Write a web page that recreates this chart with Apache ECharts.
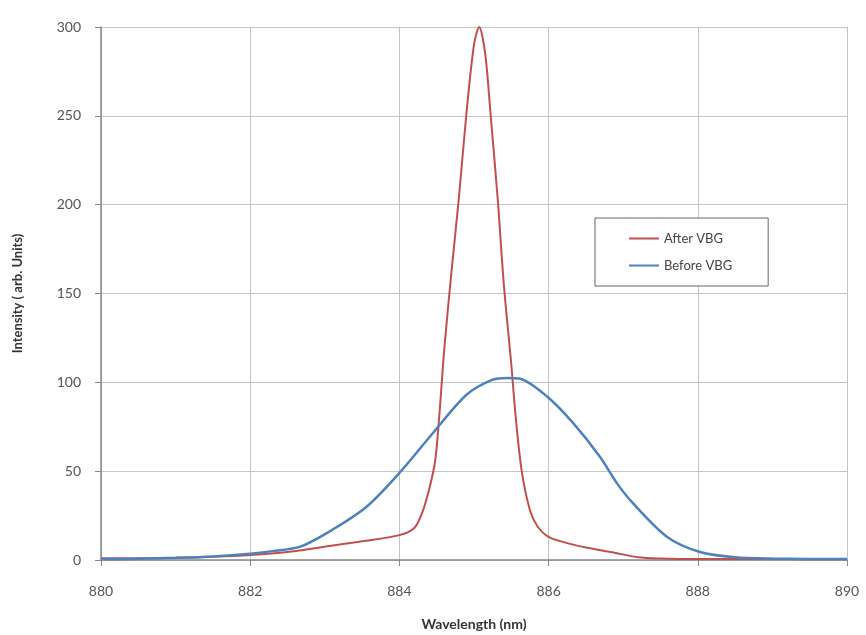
<!DOCTYPE html>
<html lang="en">
<head>
    <meta charset="UTF-8">
    <title>VBG spectrum</title>
    <script src="https://cdn.jsdelivr.net/npm/echarts@6/dist/echarts.min.js"></script>
</head>
<body style="margin:0;padding:0;background:#fff;">
<div id="chart" style="width:866px;height:635px;"></div>
<script>
    // spectrum after the VBG (narrow peak)
    var afterWl = [880, 880.5, 881, 881.5, 882, 882.5, 883, 883.5, 884, 884.2, 884.3, 884.4, 884.48, 884.54, 884.6, 884.7, 884.8, 884.9, 885.0, 885.07, 885.15, 885.22, 885.32, 885.4, 885.5, 885.56, 885.64, 885.75, 885.85, 886.0, 886.25, 886.5, 886.9, 887.2, 887.5, 888, 889, 890];
    var afterInt = [1, 1, 1.2, 1.8, 2.8, 4.5, 7.5, 10.5, 14, 18, 26, 40, 56, 84, 118, 163, 205, 252, 290, 300, 285, 252, 202, 155, 110, 80, 50, 28, 19, 13, 9.5, 7, 4, 1.5, 0.8, 0.5, 0.5, 0.5];
    // spectrum before the VBG (broad)
    var beforeWl = [880, 880.5, 881, 881.5, 882, 882.3, 882.67, 883.1, 883.56, 884.0, 884.45, 884.9, 885.25, 885.45, 885.62, 885.98, 886.33, 886.69, 886.92, 887.13, 887.59, 888.03, 888.5, 889, 890];
    var beforeInt = [0.5, 0.7, 1.2, 2, 3.5, 5, 7.5, 17, 30, 49, 71.5, 93, 101.5, 102.5, 102, 92, 77, 58, 43, 32, 13, 4.5, 1.5, 0.8, 0.5];

    function pairs(xs, ys) {
        var out = [];
        for (var i = 0; i < xs.length; i++) {
            out.push([xs[i], ys[i]]);
        }
        return out;
    }

    var myChart = echarts.init(document.getElementById('chart'));
    var font = 'Lato, "Open Sans", sans-serif';
    var option = {
        animation: false,
        backgroundColor: '#fff',
        grid: {
            left: 101,
            right: 19,
            top: 27,
            bottom: 75,
            containLabel: false,
            outerBoundsMode: 'none'
        },
        legend: {
            orient: 'vertical',
            left: 595,
            top: 218,
            padding: [14, 36, 14, 34],
            itemGap: 14,
            itemWidth: 30,
            itemHeight: 2,
            icon: 'rect',
            borderColor: '#666',
            borderWidth: 1,
            backgroundColor: '#fff',
            textStyle: { fontFamily: font, fontSize: 13, color: '#444' },
            data: ['After VBG', 'Before VBG']
        },
        xAxis: {
            type: 'value',
            min: 880,
            max: 890,
            interval: 2,
            name: 'Wavelength (nm)',
            nameLocation: 'middle',
            nameGap: 57,
            nameTextStyle: { fontFamily: font, fontSize: 14, fontWeight: 'bold', color: '#333' },
            axisLine: { lineStyle: { color: '#888', width: 1.5 } },
            axisTick: { show: true, length: 6, lineStyle: { color: '#888' } },
            axisLabel: { fontFamily: font, fontSize: 14, color: '#555', margin: 24 },
            splitLine: { show: true, lineStyle: { color: '#c4c4c4', width: 1 } }
        },
        yAxis: {
            type: 'value',
            min: 0,
            max: 300,
            interval: 50,
            name: 'Intensity ( arb. Units)',
            nameLocation: 'middle',
            nameGap: 77,
            nameTextStyle: { fontFamily: font, fontSize: 13, fontWeight: 'bold', color: '#333' },
            axisLine: { show: true, lineStyle: { color: '#888', width: 1.5 } },
            axisTick: { show: true, length: 6, lineStyle: { color: '#888' } },
            axisLabel: { fontFamily: font, fontSize: 14, color: '#555', margin: 20 },
            splitLine: { show: true, lineStyle: { color: '#c4c4c4', width: 1 } }
        },
        series: [
            {
                name: 'After VBG',
                type: 'line',
                smooth: 0.3,
                showSymbol: false,
                color: '#c0504d',
                lineStyle: { width: 2, color: '#c0504d' },
                data: pairs(afterWl, afterInt)
            },
            {
                name: 'Before VBG',
                type: 'line',
                smooth: 0.3,
                showSymbol: false,
                color: '#4f81bd',
                lineStyle: { width: 2.5, color: '#4f81bd' },
                data: pairs(beforeWl, beforeInt)
            }
        ]
    };
    myChart.setOption(option);
</script>
</body>
</html>
